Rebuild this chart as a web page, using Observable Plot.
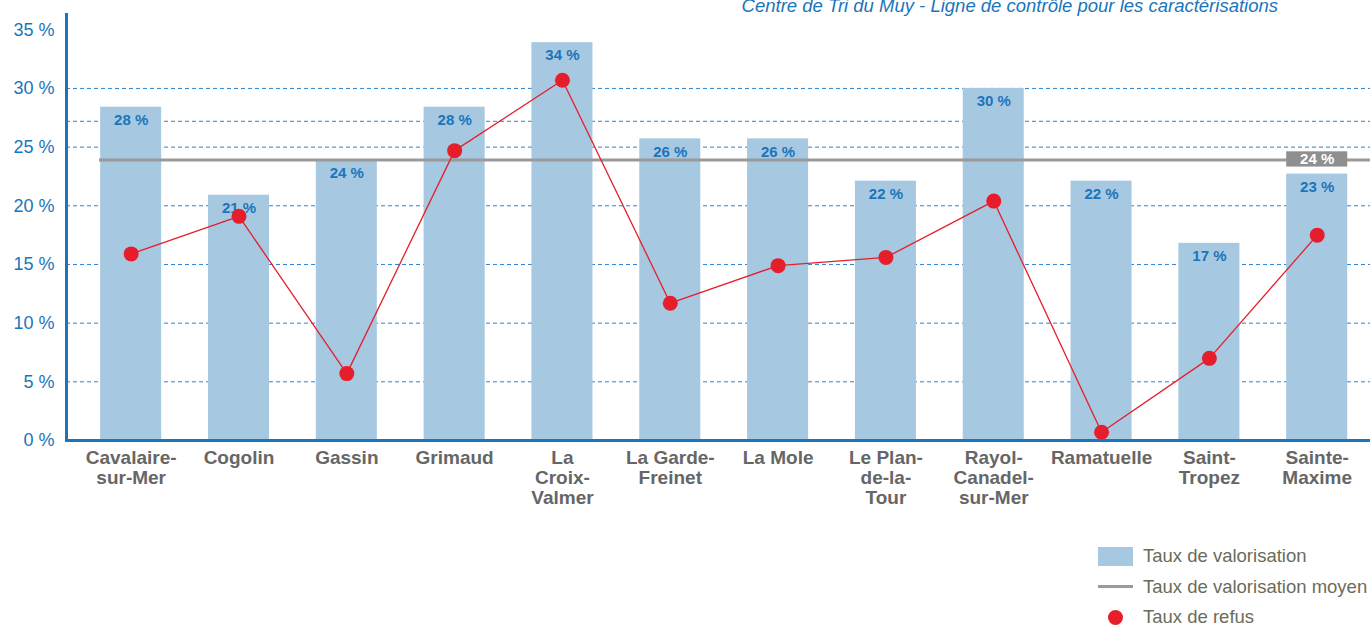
<!DOCTYPE html>
<html><head><meta charset="utf-8">
<script src="https://cdn.jsdelivr.net/npm/d3@7"></script>
<script src="https://cdn.jsdelivr.net/npm/@observablehq/plot@0.6"></script>
<style>
body{margin:0;font-family:"Liberation Sans",Arial,sans-serif;background:#fff;}
#wrap{position:relative;width:1370px;height:626px;overflow:hidden;}
#title{position:absolute;right:92px;top:-5px;font-style:italic;color:#1a75bb;font-size:18.5px;white-space:nowrap;}
#legend{position:absolute;left:1098px;top:541px;font-size:18.5px;color:#6b6c5a;}
#legend .row{display:flex;align-items:center;height:30.5px;}
#legend .sw{width:35px;display:flex;justify-content:center;align-items:center;margin-right:10px;}
</style></head>
<body>
<div id="wrap">
<div id="chart"></div>
<div id="title">Centre de Tri du Muy - Ligne de contrôle pour les caractérisations</div>
<div id="legend">
  <div class="row"><div class="sw"><div style="width:35px;height:19px;background:#a6c8e1"></div></div>Taux de valorisation</div>
  <div class="row"><div class="sw"><div style="width:35px;height:3px;background:#9a9a9a"></div></div>Taux de valorisation moyen</div>
  <div class="row"><div class="sw"><div style="width:15px;height:15px;border-radius:50%;background:#e61e2b"></div></div>Taux de refus</div>
</div>
</div>
<script>
const communes = ["Cavalaire-sur-Mer","Cogolin","Gassin","Grimaud","La Croix-Valmer","La Garde-Freinet","La Mole","Le Plan-de-la-Tour","Rayol-Canadel-sur-Mer","Ramatuelle","Saint-Tropez","Sainte-Maxime"];
const tickLabels = ["Cavalaire-\nsur-Mer","Cogolin","Gassin","Grimaud","La\nCroix-\nValmer","La Garde-\nFreinet","La Mole","Le Plan-\nde-la-\nTour","Rayol-\nCanadel-\nsur-Mer","Ramatuelle","Saint-\nTropez","Sainte-\nMaxime"];
const valorisation = [28.4, 20.9, 23.9, 28.4, 33.9, 25.7, 25.7, 22.1, 30.0, 22.1, 16.8, 22.7];
const refus = [15.9, 19.1, 5.7, 24.7, 30.7, 11.7, 14.9, 15.6, 20.4, 0.7, 7.0, 17.5];
const moyenne = 23.9;
const moyenneLabel = "24 %";
const yTicks = [0, 5, 10, 15, 20, 25, 30, 35];
const gridValues = [5, 10, 15, 20, 25, 27.2, 30];

const data = communes.map((c, i) => ({commune: c, val: valorisation[i], refus: refus[i], label: Math.round(valorisation[i]) + " %"}));
const labelOf = new Map(communes.map((c, i) => [c, tickLabels[i]]));
const badge = [{commune: communes[communes.length - 1], y1: moyenne - 0.6, y2: moyenne + 0.7, label: moyenneLabel}];

const blue = "#1a75bb";
const chart = Plot.plot({
  width: 1370,
  height: 526,
  marginLeft: 66,
  marginRight: 0,
  marginTop: 14,
  marginBottom: 86,
  style: {fontFamily: "'Liberation Sans', Arial, sans-serif", background: "transparent"},
  x: {domain: communes, paddingInner: 0.434, paddingOuter: 0.264, align: 0.6, round: false, label: null},
  y: {domain: [0, 36.3], label: null},
  marks: [
    Plot.ruleY(gridValues, {stroke: "#2a82cc", strokeWidth: 1, strokeDasharray: "4,3"}),
    Plot.barY(data, {x: "commune", y: "val", fill: "#a6c8e1"}),
    Plot.ruleY([moyenne], {stroke: "#9a9a9a", strokeWidth: 3, insetLeft: 33}),
    Plot.barY(badge, {x: "commune", y1: "y1", y2: "y2", fill: "#8f8f8f"}),
    Plot.text(badge, {x: "commune", y: d => (d.y1 + d.y2) / 2, text: "label", fill: "white", fontWeight: "bold", fontSize: 15}),
    Plot.text(data, {x: "commune", y: "val", text: "label", dy: 13, fill: blue, fontWeight: "bold", fontSize: 15}),
    Plot.line(data, {x: "commune", y: "refus", stroke: "#e61e2b", strokeWidth: 1.3}),
    Plot.dot(data, {x: "commune", y: "refus", r: 7.5, fill: "#e61e2b"}),
    Plot.ruleY([0], {stroke: blue, strokeWidth: 3}),
    Plot.frame({anchor: "left", stroke: blue, strokeWidth: 3}),
    Plot.axisY(yTicks, {tickSize: 0, tickPadding: 12, tickFormat: d => d + " %", fill: blue, fontSize: 18, label: null}),
    Plot.axisX({tickSize: 0, tickPadding: 10, tickFormat: d => labelOf.get(d), fill: "#666666", fontSize: 19, fontWeight: "bold", lineHeight: 1.03, label: null})
  ]
});
document.getElementById("chart").appendChild(chart);
</script>
</body></html>
